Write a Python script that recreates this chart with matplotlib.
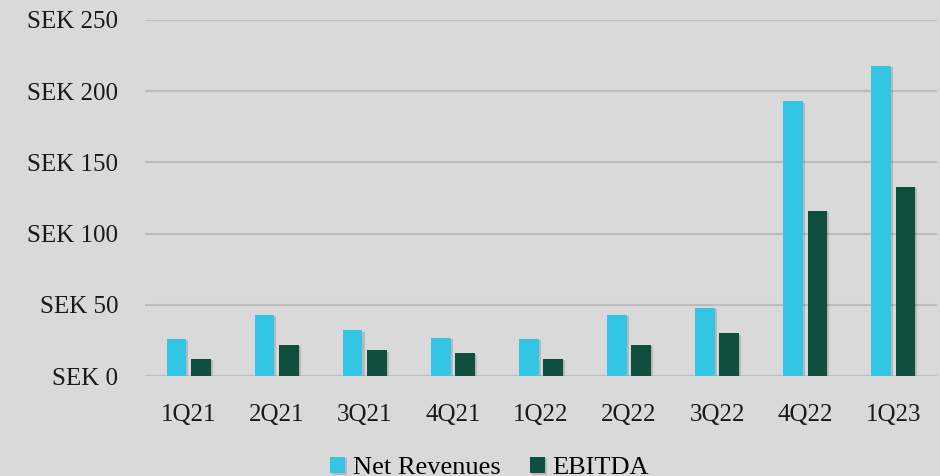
import matplotlib.pyplot as plt
import matplotlib.patheffects as pe
import numpy as np

quarters = ['1Q21', '2Q21', '3Q21', '4Q21', '1Q22', '2Q22', '3Q22', '4Q22', '1Q23']
net_revenues = [26, 43, 32, 27, 26, 43, 48, 193, 218]
ebitda = [12, 22, 18, 16, 12, 22, 30, 116, 133]
y_ticks = [0, 50, 100, 150, 200, 250]

bg = '#d9d9d9'
cyan = '#33c6e4'
green = '#0e4f3e'

plt.rcParams['font.family'] = ['Liberation Serif', 'DejaVu Serif']

fig = plt.figure(figsize=(9.4, 4.76), dpi=100, facecolor=bg)
ax = fig.add_axes([0.154, 0.21, 0.843, 0.748], facecolor=bg)

x = np.arange(len(quarters))
w = 0.225
shadow = [pe.SimplePatchShadow(offset=(1.5, -1), shadow_rgbFace='black', alpha=0.15), pe.Normal()]
b1 = ax.bar(x - 0.14, net_revenues, w, color=cyan, label='Net Revenues', zorder=3)
b2 = ax.bar(x + 0.14, ebitda, w, color=green, label='EBITDA', zorder=3)
for b in list(b1) + list(b2):
    b.set_path_effects(shadow)

ax.set_xlim(-0.5, len(quarters) - 0.5)
ax.set_ylim(0, 250)
ax.set_yticks(y_ticks)
ax.set_yticklabels(['SEK %d' % v for v in y_ticks])
ax.set_xticks(x)
ax.set_xticklabels(quarters)
ax.tick_params(length=0, labelsize=18, colors='#1a1a1a')
ax.tick_params(axis='y', pad=19)
ax.tick_params(axis='x', pad=20)
ax.yaxis.grid(True, color='#bcbcbc', linewidth=1.5, zorder=0)
ax.axhline(0, color='#cfcfcf', linewidth=1.5, zorder=1)
for s in ax.spines.values():
    s.set_visible(False)

ax.legend(loc='upper center', bbox_to_anchor=(0.435, -0.19), ncol=2, frameon=False,
          fontsize=19, handlelength=0.57, handleheight=0.57, handletextpad=0.3,
          columnspacing=1.1, borderpad=0)

fig.savefig('out.png', dpi=100, facecolor=bg)
